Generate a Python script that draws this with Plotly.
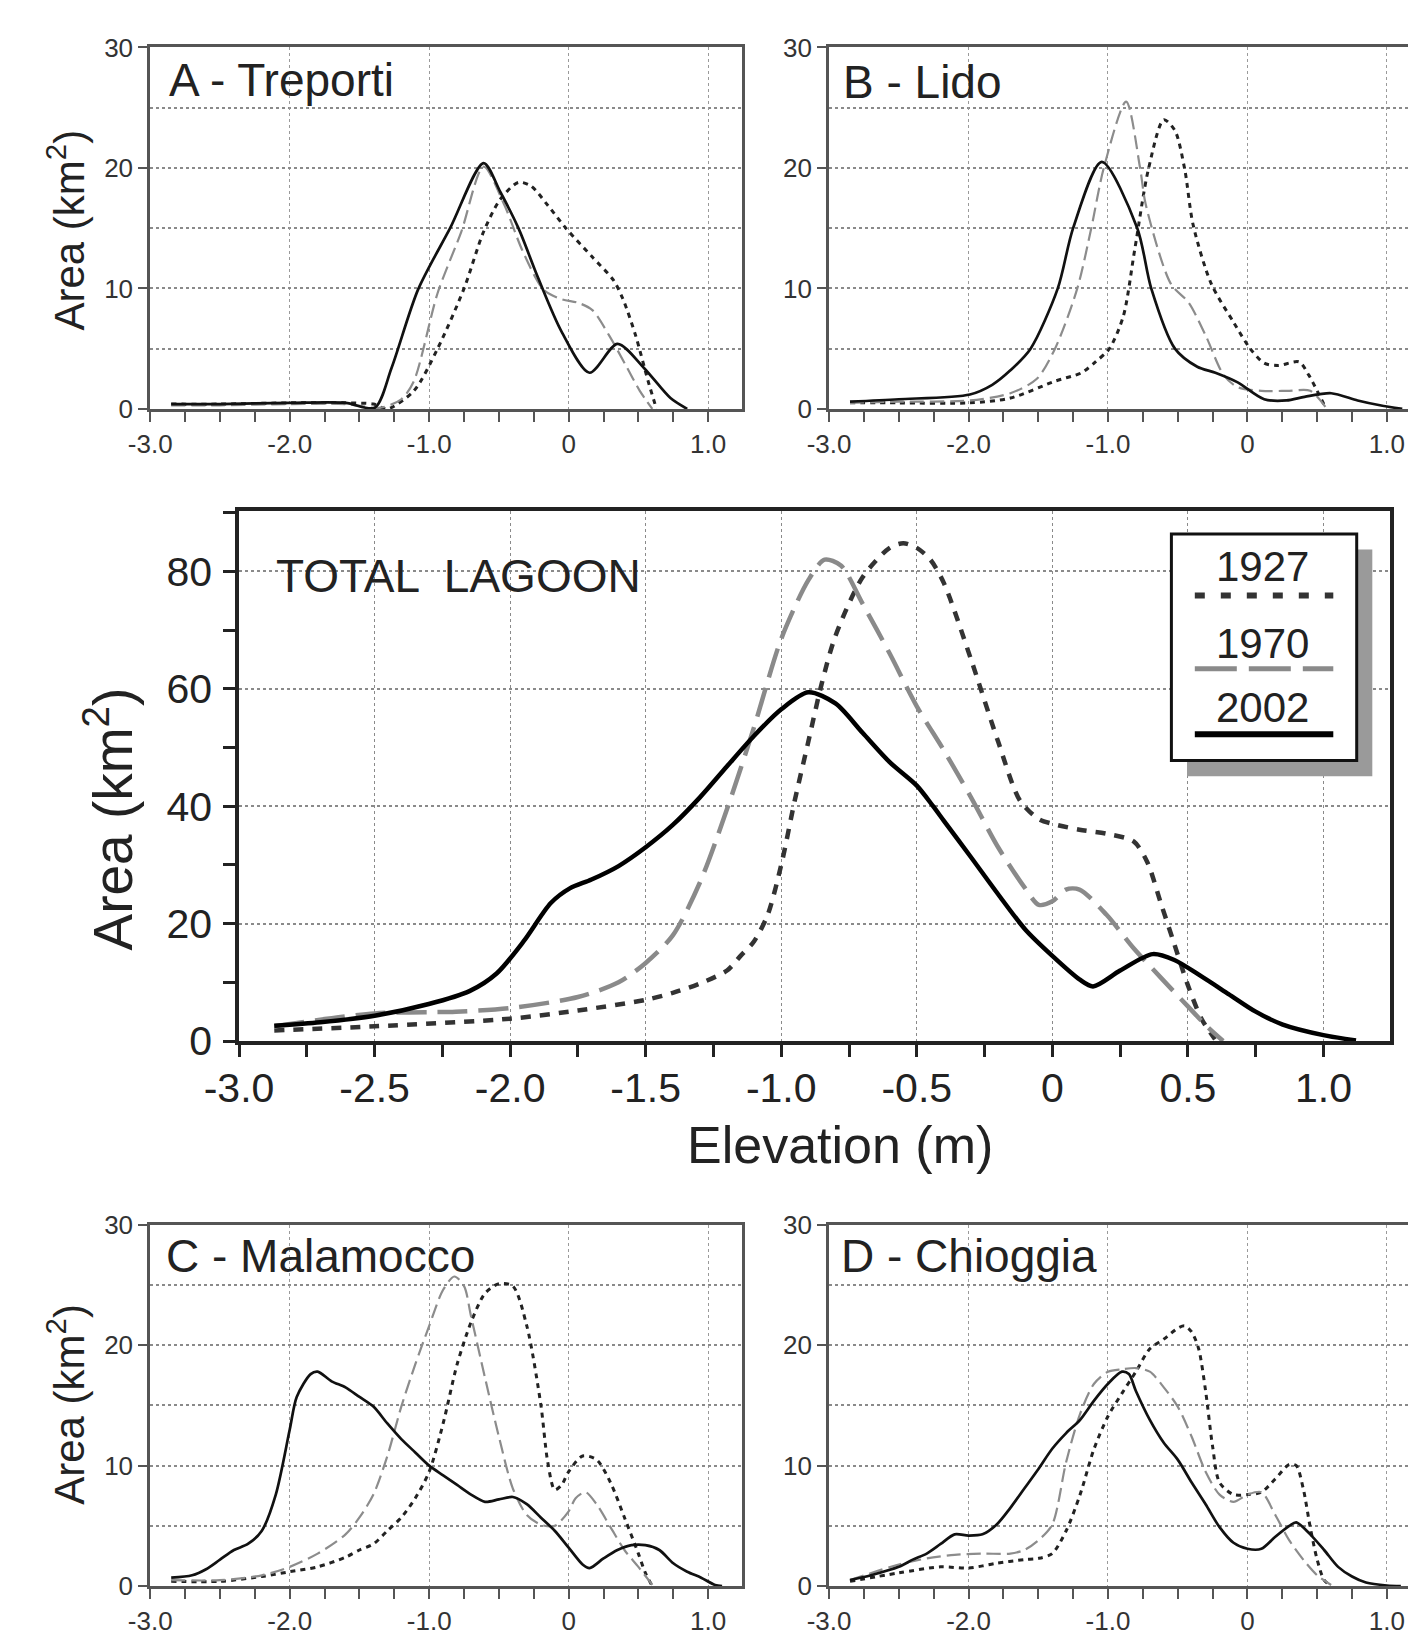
import plotly.graph_objects as go

# ---------------- DATA ----------------
# TOTAL LAGOON
tot_1927_x = [-2.87, -2.5, -2.0, -1.75, -1.5, -1.4, -1.3, -1.2, -1.15, -1.1, -1.05, -1.0, -0.95, -0.9, -0.85, -0.8, -0.7, -0.6, -0.55, -0.5, -0.45, -0.4, -0.3, -0.2, -0.12, -0.05, 0.0, 0.1, 0.2, 0.3, 0.35, 0.4, 0.45, 0.5, 0.55, 0.6]
tot_1927_y = [1.8, 2.5, 3.8, 5.2, 7.0, 8.2, 9.8, 12.0, 14.5, 17.0, 21.5, 30.0, 41.0, 51.0, 61.0, 69.0, 79.0, 84.0, 84.8, 84.0, 82.0, 78.0, 65.0, 51.0, 41.0, 37.8, 37.0, 36.0, 35.3, 34.0, 30.5, 23.5, 16.5, 9.5, 3.8, 0.3]
tot_1970_x = [-2.87, -2.5, -2.2, -2.0, -1.75, -1.6, -1.5, -1.4, -1.3, -1.2, -1.1, -1.0, -0.9, -0.84, -0.78, -0.7, -0.6, -0.5, -0.4, -0.3, -0.2, -0.1, -0.05, 0.0, 0.05, 0.1, 0.2, 0.3, 0.4, 0.5, 0.57, 0.63]
tot_1970_y = [2.5, 4.7, 5.0, 5.6, 7.5, 10.0, 13.3, 18.0, 27.0, 39.5, 53.5, 68.5, 78.5, 82.0, 81.0, 74.5, 66.0, 57.0, 49.5, 41.5, 33.0, 26.0, 23.2, 23.8, 25.8, 25.8, 21.5, 15.8, 10.8, 5.9, 2.5, 0.0]
tot_2002_x = [-2.87, -2.7, -2.5, -2.3, -2.15, -2.05, -1.95, -1.85, -1.78, -1.7, -1.6, -1.5, -1.4, -1.3, -1.2, -1.1, -1.0, -0.9, -0.8, -0.7, -0.6, -0.5, -0.44, -0.4, -0.3, -0.2, -0.1, 0.0, 0.1, 0.15, 0.25, 0.37, 0.45, 0.55, 0.65, 0.75, 0.85, 1.0, 1.12]
tot_2002_y = [2.6, 3.2, 4.3, 6.3, 8.5, 11.5, 17.0, 23.5, 26.0, 27.5, 29.8, 33.0, 36.8, 41.5, 46.8, 52.0, 56.5, 59.4, 57.5, 52.5, 47.5, 43.5, 40.0, 37.5, 31.3, 25.0, 19.0, 14.5, 10.5, 9.3, 12.0, 14.8, 13.8, 11.0, 8.0, 5.0, 2.8, 1.0, 0.1]

# A - Treporti
a_1927_x = [-2.85, -2.5, -2.0, -1.6, -1.4, -1.3, -1.11, -0.94, -0.75, -0.61, -0.49, -0.36, -0.27, -0.15, -0.02, 0.17, 0.32, 0.39, 0.48, 0.57, 0.63]
a_1927_y = [0.4, 0.4, 0.5, 0.5, 0.4, 0.0, 1.5, 5.0, 10.0, 14.7, 17.4, 18.8, 18.5, 16.9, 15.0, 12.6, 10.7, 9.1, 6.1, 2.3, 0.0]
a_1970_x = [-2.85, -2.5, -2.0, -1.6, -1.35, -1.2, -1.11, -0.94, -0.77, -0.61, -0.46, -0.33, -0.18, -0.05, 0.07, 0.17, 0.29, 0.42, 0.51, 0.6]
a_1970_y = [0.3, 0.3, 0.4, 0.4, 0.1, 0.8, 2.3, 9.6, 14.7, 20.1, 16.9, 13.1, 9.9, 9.1, 8.8, 8.2, 6.1, 3.4, 1.5, 0.0]
a_2002_x = [-2.85, -2.5, -2.0, -1.6, -1.39, -1.27, -1.08, -0.85, -0.61, -0.49, -0.36, -0.22, -0.05, 0.15, 0.35, 0.54, 0.73, 0.85]
a_2002_y = [0.4, 0.4, 0.5, 0.5, 0.1, 3.4, 9.9, 15.0, 20.4, 18.0, 15.0, 10.9, 6.4, 3.0, 5.4, 3.4, 0.9, 0.0]

# B - Lido
b_1927_x = [-2.85, -2.5, -1.99, -1.7, -1.38, -1.19, -1.09, -0.99, -0.89, -0.81, -0.71, -0.6, -0.52, -0.45, -0.39, -0.26, -0.1, 0.02, 0.12, 0.22, 0.37, 0.44, 0.5, 0.56]
b_1927_y = [0.5, 0.5, 0.5, 0.9, 2.3, 3.0, 3.9, 5.0, 7.7, 13.1, 19.9, 24.0, 23.1, 19.9, 15.3, 10.4, 7.2, 5.0, 3.8, 3.6, 3.9, 2.8, 1.5, 0.1]
b_1970_x = [-2.85, -2.5, -1.99, -1.7, -1.51, -1.38, -1.22, -1.12, -1.03, -0.87, -0.77, -0.73, -0.55, -0.42, -0.3, -0.17, -0.07, 0.1, 0.3, 0.45, 0.57]
b_1970_y = [0.5, 0.6, 0.7, 1.3, 2.5, 5.0, 10.0, 15.0, 20.0, 25.5, 20.0, 17.0, 10.4, 8.8, 6.1, 2.8, 1.8, 1.5, 1.5, 1.5, 0.0]
b_2002_x = [-2.85, -2.5, -1.99, -1.83, -1.7, -1.555, -1.36, -1.25, -1.045, -0.79, -0.69, -0.52, -0.36, -0.23, -0.07, 0.12, 0.28, 0.41, 0.6, 0.79, 0.95, 1.11]
b_2002_y = [0.6, 0.8, 1.2, 2.0, 3.2, 5.0, 10.0, 15.0, 20.5, 15.0, 10.0, 5.0, 3.5, 3.0, 2.2, 0.8, 0.7, 1.0, 1.3, 0.7, 0.3, 0.0]

# C - Malamocco
c_1927_x = [-2.85, -2.5, -2.2, -2.0, -1.8, -1.6, -1.5, -1.4, -1.3, -1.2, -1.1, -1.0, -0.9, -0.8, -0.7, -0.6, -0.5, -0.4, -0.3, -0.2, -0.15, -0.1, -0.05, 0.0, 0.1, 0.2, 0.3, 0.4, 0.5, 0.55, 0.6]
c_1927_y = [0.4, 0.4, 0.8, 1.2, 1.6, 2.4, 3.0, 3.5, 4.6, 5.7, 7.3, 9.5, 13.5, 18.4, 21.9, 24.3, 25.1, 24.9, 21.6, 15.1, 10.3, 8.0, 8.4, 9.5, 10.8, 10.5, 8.6, 5.7, 2.7, 1.1, 0.0]
c_1970_x = [-2.85, -2.5, -2.2, -2.0, -1.8, -1.6, -1.5, -1.4, -1.3, -1.2, -1.1, -1.0, -0.9, -0.82, -0.75, -0.7, -0.6, -0.5, -0.4, -0.3, -0.2, -0.1, 0.0, 0.05, 0.12, 0.2, 0.3, 0.4, 0.5, 0.6]
c_1970_y = [0.5, 0.5, 0.9, 1.6, 2.7, 4.3, 5.7, 7.6, 10.8, 14.9, 18.4, 21.6, 24.6, 25.7, 24.9, 22.4, 17.3, 12.4, 8.1, 5.9, 5.1, 5.0, 6.2, 7.3, 7.8, 6.8, 4.9, 3.0, 1.6, 0.1]
c_2002_x = [-2.85, -2.7, -2.6, -2.5, -2.4, -2.3, -2.2, -2.1, -2.0, -1.95, -1.85, -1.8, -1.7, -1.6, -1.5, -1.4, -1.3, -1.2, -1.1, -1.0, -0.9, -0.8, -0.7, -0.6, -0.5, -0.4, -0.3, -0.2, -0.1, 0.0, 0.1, 0.15, 0.25, 0.35, 0.45, 0.55, 0.65, 0.75, 0.85, 0.95, 1.05, 1.1]
c_2002_y = [0.7, 0.9, 1.4, 2.2, 3.0, 3.5, 4.6, 7.6, 13.0, 15.7, 17.6, 17.8, 17.0, 16.5, 15.7, 14.9, 13.5, 12.2, 11.1, 10.0, 9.2, 8.4, 7.6, 7.0, 7.2, 7.4, 6.8, 5.7, 4.6, 3.2, 1.8, 1.5, 2.3, 3.0, 3.4, 3.4, 3.0, 1.9, 1.2, 0.7, 0.1, 0.0]

# D - Chioggia
d_1927_x = [-2.85, -2.5, -2.2, -2.0, -1.8, -1.6, -1.5, -1.4, -1.3, -1.2, -1.1, -1.0, -0.9, -0.8, -0.7, -0.6, -0.5, -0.45, -0.4, -0.35, -0.3, -0.25, -0.2, -0.1, 0.0, 0.1, 0.2, 0.3, 0.35, 0.4, 0.45, 0.5, 0.55, 0.6]
d_1927_y = [0.4, 1.1, 1.6, 1.5, 1.9, 2.2, 2.3, 2.7, 4.6, 7.6, 11.4, 14.1, 16.0, 17.8, 19.7, 20.5, 21.4, 21.6, 21.1, 19.7, 16.2, 11.6, 8.6, 7.6, 7.6, 7.8, 8.9, 10.1, 10.0, 8.1, 4.9, 2.2, 0.5, 0.0]
d_1970_x = [-2.85, -2.5, -2.3, -2.1, -1.9, -1.7, -1.6, -1.5, -1.4, -1.3, -1.2, -1.1, -1.0, -0.9, -0.8, -0.7, -0.6, -0.5, -0.4, -0.3, -0.2, -0.1, 0.0, 0.1, 0.2, 0.3, 0.4, 0.5, 0.6]
d_1970_y = [0.5, 1.8, 2.3, 2.6, 2.7, 2.7, 3.0, 3.8, 5.1, 10.3, 14.3, 16.8, 17.8, 18.0, 18.1, 17.8, 16.5, 14.9, 12.4, 9.5, 7.6, 7.0, 7.6, 7.8, 5.9, 3.8, 2.2, 0.9, 0.1]
d_2002_x = [-2.85, -2.7, -2.5, -2.4, -2.3, -2.2, -2.1, -2.0, -1.9, -1.8, -1.7, -1.6, -1.5, -1.4, -1.3, -1.2, -1.1, -1.0, -0.9, -0.85, -0.8, -0.7, -0.6, -0.5, -0.4, -0.3, -0.2, -0.1, 0.0, 0.1, 0.2, 0.3, 0.35, 0.45, 0.55, 0.65, 0.75, 0.85, 1.0, 1.1]
d_2002_y = [0.5, 0.9, 1.6, 2.2, 2.7, 3.5, 4.3, 4.2, 4.3, 5.1, 6.5, 8.1, 9.7, 11.4, 12.7, 13.8, 15.4, 16.8, 17.8, 17.6, 16.2, 13.8, 11.9, 10.5, 8.6, 6.8, 4.9, 3.6, 3.1, 3.1, 4.1, 5.0, 5.3, 4.3, 3.0, 1.6, 0.8, 0.3, 0.05, 0.0]

years = ["1927", "1970", "2002"]
panel_titles = ["A - Treporti", "B - Lido", "TOTAL  LAGOON", "C - Malamocco", "D - Chioggia"]
small_xtick_vals = [-3, -2, -1, 0, 1]
small_xtick_text = ["-3.0", "-2.0", "-1.0", "0", "1.0"]
small_ytick_vals = [0, 10, 20, 30]
main_xtick_vals = [-3, -2.5, -2, -1.5, -1, -0.5, 0, 0.5, 1]
main_xtick_text = ["-3.0", "-2.5", "-2.0", "-1.5", "-1.0", "-0.5", "0", "0.5", "1.0"]
main_ytick_vals = [0, 20, 40, 60, 80]

# ---------------- FIGURE ----------------
W, H = 1416, 1650
FONT = "Liberation Sans, Arial, Helvetica, sans-serif"

def px(x):
    return x / W

def py(y):
    return 1 - y / H

fig = go.Figure()

small_style = {
    "1927": dict(color="#222222", width=3, dash="5px,5px"),
    "1970": dict(color="#8c8c8c", width=2.2, dash="14px,6px"),
    "2002": dict(color="#111111", width=2.7, dash="solid"),
}
main_style = {
    "1927": dict(color="#333333", width=4.5, dash="10px,9px"),
    "1970": dict(color="#8a8a8a", width=4.5, dash="30px,11px"),
    "2002": dict(color="#000000", width=4.5, dash="solid"),
}

panels = [
    ("x", "y", [(a_1927_x, a_1927_y), (a_1970_x, a_1970_y), (a_2002_x, a_2002_y)], small_style),
    ("x2", "y2", [(b_1927_x, b_1927_y), (b_1970_x, b_1970_y), (b_2002_x, b_2002_y)], small_style),
    ("x3", "y3", [(tot_1927_x, tot_1927_y), (tot_1970_x, tot_1970_y), (tot_2002_x, tot_2002_y)], main_style),
    ("x4", "y4", [(c_1927_x, c_1927_y), (c_1970_x, c_1970_y), (c_2002_x, c_2002_y)], small_style),
    ("x5", "y5", [(d_1927_x, d_1927_y), (d_1970_x, d_1970_y), (d_2002_x, d_2002_y)], small_style),
]
for xa, ya, series, style in panels:
    for yr, (xs, ys) in zip(years, series):
        fig.add_trace(go.Scatter(x=xs, y=ys, xaxis=xa, yaxis=ya, mode="lines",
                                 line=dict(shape="spline", smoothing=0.8, **style[yr]),
                                 name=yr, showlegend=False, hoverinfo="skip"))

dom_left = [px(110), px(717)]
dom_right = [px(806), px(1413)]
dom_top = [py(395), py(25)]
dom_bot = [py(1600), py(1230)]
dom_main_x = [px(201), px(1381)]
dom_main_y = [py(1042), py(500)]

def small_x(domain, anchor):
    return dict(domain=domain, anchor=anchor, range=[-3, 1.245], tickmode="array",
                tickvals=small_xtick_vals, ticktext=small_xtick_text,
                ticks="outside", ticklen=10, tickwidth=2, tickcolor="#555",
                ticklabelstandoff=0,
                showgrid=True, gridcolor="#9a9a9a", griddash="dot", gridwidth=1.3,
                minor=dict(dtick=0.25, tick0=-3, ticks="outside", ticklen=10, tickwidth=2,
                           tickcolor="#555", showgrid=False),
                showline=True, mirror=True, linecolor="#555", linewidth=3, zeroline=False,
                tickfont=dict(family=FONT, size=26, color="#333"), fixedrange=True)

def small_y(domain, anchor):
    return dict(domain=domain, anchor=anchor, range=[0, 30], tickmode="array",
                tickvals=small_ytick_vals, ticks="outside", ticklen=9, tickwidth=2,
                tickcolor="#555", ticklabelstandoff=0,
                showgrid=True, gridcolor="#8a8a8a", griddash="dot", gridwidth=1.6,
                minor=dict(dtick=5, tick0=0, ticks="", showgrid=True, gridcolor="#8a8a8a",
                           griddash="dot", gridwidth=1.6),
                showline=True, mirror=True, linecolor="#555", linewidth=3, zeroline=False,
                tickfont=dict(family=FONT, size=26, color="#333"), fixedrange=True)

fig.update_layout(
    width=W, height=H, margin=dict(l=0, r=0, t=0, b=0),
    paper_bgcolor="white", plot_bgcolor="white", showlegend=False,
    font=dict(family=FONT, color="#222"),
    xaxis=small_x(dom_left, "y"), yaxis=small_y(dom_top, "x"),
    xaxis2=small_x(dom_right, "y2"), yaxis2=small_y(dom_top, "x2"),
    xaxis4=small_x(dom_left, "y4"), yaxis4=small_y(dom_bot, "x4"),
    xaxis5=small_x(dom_right, "y5"), yaxis5=small_y(dom_bot, "x5"),
    xaxis3=dict(domain=dom_main_x, anchor="y3", range=[-3, 1.245], tickmode="array",
                tickvals=main_xtick_vals, ticktext=main_xtick_text,
                ticks="outside", ticklen=12, tickwidth=2.5, tickcolor="#222",
                ticklabelstandoff=-4,
                showgrid=True, gridcolor="#8a8a8a", griddash="dot", gridwidth=1.3,
                minor=dict(dtick=0.25, tick0=-3, ticks="outside", ticklen=12, tickwidth=2.5,
                           tickcolor="#222", showgrid=False),
                showline=True, mirror=True, linecolor="#222", linewidth=3.5, zeroline=False,
                tickfont=dict(family=FONT, size=41, color="#222"), fixedrange=True),
    yaxis3=dict(domain=dom_main_y, anchor="x3", range=[0, 90.2], tickmode="array",
                tickvals=main_ytick_vals, ticks="outside", ticklen=12, tickwidth=2.5,
                tickcolor="#222", ticklabelstandoff=3,
                showgrid=True, gridcolor="#8a8a8a", griddash="dot", gridwidth=2,
                minor=dict(dtick=10, tick0=0, ticks="outside", ticklen=12, tickwidth=2.5,
                           tickcolor="#222", showgrid=False),
                showline=True, mirror=True, linecolor="#222", linewidth=3.5, zeroline=False,
                tickfont=dict(family=FONT, size=41, color="#222"), fixedrange=True),
)

annotations = []
# panel titles
title_pos = [(127, 58, 46), (818, 60, 46), (237, 566, 46), (124, 1262, 46), (816, 1262, 46)]
for t, (tx, ty, fs) in zip(panel_titles, title_pos):
    annotations.append(dict(text=t, x=px(tx), y=py(ty), xref="paper", yref="paper",
                            xanchor="left", yanchor="middle", showarrow=False,
                            font=dict(family=FONT, size=fs, color="#222")))
# axis titles
area_title = "Area (km<sup>2</sup>)"
for (ax_x, ax_y, fs) in [(24, 212, 42), (24, 1414, 42), (68, 815, 55)]:
    annotations.append(dict(text=area_title, x=px(ax_x), y=py(ax_y), xref="paper", yref="paper",
                            xanchor="center", yanchor="middle", showarrow=False, textangle=-90,
                            font=dict(family=FONT, size=fs, color="#222")))
annotations.append(dict(text="Elevation (m)", x=px(817), y=py(1148), xref="paper", yref="paper",
                        xanchor="center", yanchor="middle", showarrow=False,
                        font=dict(family=FONT, size=52, color="#222")))

# custom legend
shapes = []
shapes.append(dict(type="rect", xref="paper", yref="paper", x0=px(1173), x1=px(1363), y0=py(771), y1=py(539),
                   fillcolor="#9a9a9a", line=dict(width=0), layer="above"))
shapes.append(dict(type="rect", xref="paper", yref="paper", x0=px(1157), x1=px(1347), y0=py(755), y1=py(523),
                   fillcolor="white", line=dict(color="#111", width=3), layer="above"))
leg_rows = [("1927", 556, 586), ("1970", 635, 661), ("2002", 701, 728)]
leg_line = {
    "1927": dict(color="#333333", width=6, dash="10px,16px"),
    "1970": dict(color="#8a8a8a", width=5, dash="42px,12px"),
    "2002": dict(color="#000000", width=6, dash="solid"),
}
for yr, ty, ly in leg_rows:
    annotations.append(dict(text=yr, x=px(1250), y=py(ty), xref="paper", yref="paper",
                            xanchor="center", yanchor="middle", showarrow=False,
                            font=dict(family=FONT, size=42, color="#222")))
    shapes.append(dict(type="line", xref="paper", yref="paper", x0=px(1181), x1=px(1323), y0=py(ly), y1=py(ly),
                       line=leg_line[yr], layer="above"))

fig.update_layout(annotations=annotations, shapes=shapes)
fig.write_html("out.html", config={"displayModeBar": False})
